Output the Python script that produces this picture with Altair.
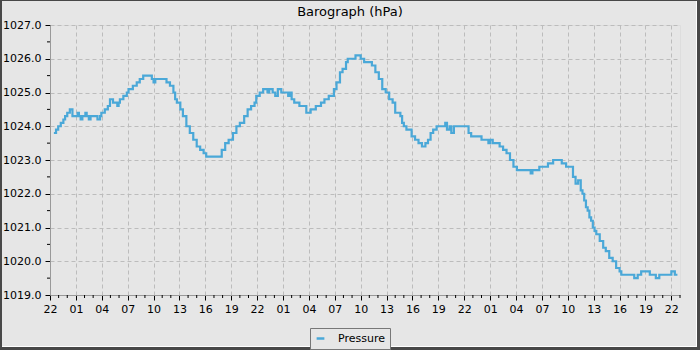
import altair as alt
import pandas as pd

# hours after 22:00 of the first day, and pressure readings (hPa)
hours = [0.45, 0.7, 0.95, 1.25, 1.55, 1.75, 2.0, 2.3, 2.6, 3.2, 3.35, 3.55, 3.75, 4.1, 4.25,
         4.5, 4.7, 5.5, 5.8, 5.95, 6.35, 6.7, 6.95, 7.3, 7.8, 7.95, 8.1, 8.5, 8.9, 9.1,
         9.6, 10.05, 10.4, 10.8, 11.8, 12.0, 12.2, 13.5, 13.9, 14.3, 14.5, 14.7, 15.1, 15.4,
         15.8, 16.2, 16.6, 17.0, 17.4, 17.8, 18.1, 19.9, 20.3, 20.7, 21.2, 21.6, 22.0, 22.5,
         22.9, 23.3, 23.7, 23.9, 24.3, 24.7, 25.2, 25.4, 25.8, 26.1, 26.4, 26.8, 27.6, 27.8,
         28.0, 28.3, 28.9, 29.7, 30.2, 30.8, 31.4, 31.8, 32.3, 32.9, 33.2, 33.6, 33.9, 34.3,
         34.5, 35.4, 36.0, 36.4, 37.3, 37.7, 38.1, 38.5, 38.9, 39.3, 39.7, 40.0, 40.6, 40.8,
         41.0, 41.3, 41.9, 42.3, 42.7, 43.1, 43.5, 43.8, 44.1, 44.4, 44.8, 45.8, 46.0, 46.3,
         46.5, 46.8, 48.5, 48.8, 50.0, 50.8, 51.0, 51.3, 52.1, 52.5, 52.9, 53.3, 53.7, 54.1,
         55.7, 55.9, 56.7, 57.7, 58.3, 59.3, 59.8, 60.6, 60.9, 61.2, 61.5, 61.7, 61.9, 62.1,
         62.3, 62.5, 62.7, 62.9, 63.1, 63.3, 63.7, 64.1, 64.4, 64.8, 65.2, 65.6, 66.0, 66.2,
         67.7, 68.1, 68.5, 69.5, 70.2, 70.6, 72.0, 72.4, 72.7]
pressure = [1023.8, 1023.9, 1024.0, 1024.1, 1024.2, 1024.3, 1024.4, 1024.5, 1024.3, 1024.4, 1024.3, 1024.2, 1024.3, 1024.4, 1024.3,
            1024.2, 1024.3, 1024.2, 1024.3, 1024.4, 1024.5, 1024.6, 1024.8, 1024.7, 1024.6, 1024.7, 1024.8, 1024.9, 1025.0, 1025.1,
            1025.2, 1025.3, 1025.4, 1025.5, 1025.4, 1025.3, 1025.4, 1025.3, 1025.2, 1025.0, 1024.8, 1024.7, 1024.5, 1024.3,
            1024.0, 1023.8, 1023.6, 1023.4, 1023.3, 1023.2, 1023.1, 1023.3, 1023.5, 1023.6, 1023.8, 1024.0, 1024.1, 1024.3,
            1024.5, 1024.6, 1024.7, 1024.9, 1025.0, 1025.1, 1025.0, 1025.1, 1025.0, 1024.9, 1025.1, 1025.0, 1024.9, 1025.0,
            1024.8, 1024.7, 1024.6, 1024.4, 1024.5, 1024.6, 1024.7, 1024.8, 1024.9, 1025.1, 1025.3, 1025.6, 1025.7, 1025.9,
            1026.0, 1026.1, 1026.0, 1025.9, 1025.8, 1025.6, 1025.4, 1025.1, 1025.0, 1024.8, 1024.7, 1024.4, 1024.3, 1024.1,
            1024.0, 1023.9, 1023.7, 1023.6, 1023.5, 1023.4, 1023.5, 1023.6, 1023.8, 1023.9, 1024.0, 1024.1, 1023.9, 1024.0,
            1023.8, 1024.0, 1023.8, 1023.7, 1023.6, 1023.5, 1023.6, 1023.5, 1023.4, 1023.3, 1023.2, 1023.0, 1022.8, 1022.7,
            1022.6, 1022.7, 1022.8, 1022.9, 1023.0, 1022.9, 1022.8, 1022.5, 1022.3, 1022.4, 1022.1, 1022.0, 1021.8, 1021.6,
            1021.5, 1021.3, 1021.2, 1021.0, 1020.9, 1020.8, 1020.6, 1020.4, 1020.3, 1020.1, 1020.0, 1019.8, 1019.7, 1019.6,
            1019.5, 1019.6, 1019.7, 1019.6, 1019.5, 1019.6, 1019.7, 1019.6, 1019.6]
series = ["Pressure"] * len(hours)

x_ticks = list(range(0, 73, 3))
x_minor = [h for h in range(0, 74) if h % 3 != 0]
y_ticks = [1019, 1020, 1021, 1022, 1023, 1024, 1025, 1026, 1027]
y_minor = [1019.5, 1020.5, 1021.5, 1022.5, 1023.5, 1024.5, 1025.5, 1026.5]
title_text = ["Barograph (hPa)"]

W, H = 630, 270
BG = "#e6e6e6"
LINE = "#4aa8d8"
FRAME = "#484848"
FONT = "DejaVu Sans"

df = pd.DataFrame({"hour": hours, "pressure": pressure, "series": series})
one = pd.DataFrame({"k": [0]})

xscale = alt.Scale(domain=[0, 73], nice=False, zero=False)
yscale = alt.Scale(domain=[1019, 1027], nice=False, zero=False)

x_axis = alt.Axis(values=x_ticks, title=None,
                  labelExpr="(((22 + datum.value) % 24) < 10 ? '0' : '') + ((22 + datum.value) % 24)",
                  grid=True, gridDash=[4, 3], gridColor="#bcbcbc", gridWidth=1,
                  tickSize=5, tickColor="#000", domainColor="#999",
                  labelFlush=False, labelOverlap=False, labelBound=False,
                  labelPadding=3, labelFontSize=11, labelColor="#000", labelFont=FONT)
y_axis = alt.Axis(values=y_ticks, format=".1f", title=None,
                  grid=True, gridDash=[4, 3], gridColor="#bcbcbc", gridWidth=1,
                  tickSize=5, tickColor="#000", domainColor="#999",
                  labelPadding=4, labelFontSize=11, labelColor="#000", labelFont=FONT,
                  labelOverlap=False, labelFlush=False, labelBound=False)

line = alt.Chart(df).mark_line(interpolate="step-after", strokeWidth=2.2).encode(
    x=alt.X("hour:Q", scale=xscale, axis=x_axis),
    y=alt.Y("pressure:Q", scale=yscale, axis=y_axis),
    color=alt.Color("series:N", scale=alt.Scale(range=[LINE]),
                    legend=alt.Legend(title=None, orient="none", legendX=260, legendY=303,
                                      padding=5, strokeColor="#777", fillColor=BG,
                                      symbolType="stroke", symbolStrokeWidth=2.5, symbolSize=60,
                                      labelFontSize=11, labelFont=FONT, labelColor="#000",
                                      labelOffset=12)),
)

xminor = alt.Chart(pd.DataFrame({"hour": x_minor})).mark_rule(color="#000", strokeWidth=1).encode(
    x=alt.X("hour:Q", scale=xscale, axis=x_axis),
    y=alt.value(H), y2=alt.value(H + 3),
)
yminor = alt.Chart(pd.DataFrame({"pressure": y_minor})).mark_rule(color="#000", strokeWidth=1).encode(
    y=alt.Y("pressure:Q", scale=yscale, axis=y_axis),
    x=alt.value(-3), x2=alt.value(0),
)

title = alt.Chart(pd.DataFrame({"t": title_text})).mark_text(
    font=FONT, fontSize=13, color="#000", align="center", baseline="alphabetic"
).encode(text="t:N", x=alt.value(300), y=alt.value(-9))


def frame(x, x2, y, y2, color):
    return alt.Chart(one).mark_rect(color=color, clip=False).encode(
        x=alt.value(x), x2=alt.value(x2), y=alt.value(y), y2=alt.value(y2))


frames = [
    frame(-50, -48, -25, 325, FRAME),
    frame(-50, 650, -25, -24, FRAME),
    frame(646, 647, -24, 322, "#ffffff"),
    frame(-48, 647, 321, 322, "#ffffff"),
    frame(647, 650, -25, 325, FRAME),
    frame(-50, 650, 322, 325, FRAME),
]

chart = alt.layer(line, xminor, yminor, title, *frames).properties(
    width=W, height=H,
    autosize=alt.AutoSizeParams(type="none"),
    padding={"left": 50, "top": 25, "right": 20, "bottom": 55},
    background=BG,
).configure_view(stroke="#999", strokeWidth=1).configure(font=FONT)

chart.save("out.html", embed_options={"renderer": "svg", "actions": False})
